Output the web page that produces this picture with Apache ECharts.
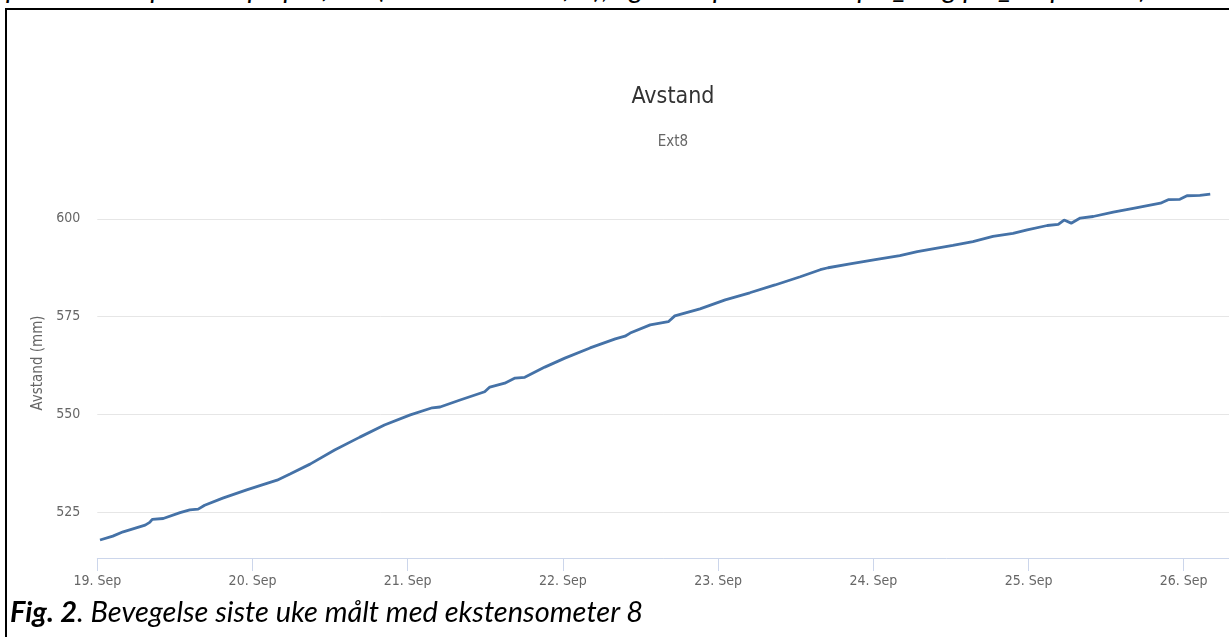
<!DOCTYPE html>
<html>
<head>
<meta charset="utf-8">
<script src="https://cdn.jsdelivr.net/npm/echarts@6/dist/echarts.min.js"></script>
<style>
html,body{margin:0;padding:0;background:#fff;width:1229px;height:637px;overflow:hidden;}
#top{position:absolute;left:6px;top:-30px;font-family:Lato,"Open Sans",sans-serif;font-style:italic;font-size:28px;color:#000;white-space:nowrap;}
#frameTop{position:absolute;left:5px;top:8px;width:1224px;height:2px;background:#000;}
#frameLeft{position:absolute;left:5px;top:8px;width:2px;height:629px;background:#000;}
#caption{position:absolute;left:10px;top:593px;font-family:Lato,"Open Sans",sans-serif;font-style:italic;font-size:29px;color:#000;white-space:nowrap;}
#chart{position:absolute;left:0;top:0;width:1229px;height:637px;}
</style>
</head>
<body>
<div id="top">punktene er plassert på profilen (se kartet nedenfor), og disse punktene er pts_0 og pts_30 punkter)</div>
<div id="frameTop"></div>
<div id="frameLeft"></div>
<div id="chart"></div>
<div id="caption"><b>Fig. 2</b>. Bevegelse siste uke målt med ekstensometer 8</div>
<script>
const times = [
  '2019-09-19T00:25','2019-09-19T02:24','2019-09-19T04:00','2019-09-19T07:24','2019-09-19T08:06',
  '2019-09-19T08:30','2019-09-19T10:12','2019-09-19T12:48','2019-09-19T14:18','2019-09-19T15:36',
  '2019-09-19T16:36','2019-09-19T19:24','2019-09-19T23:06','2019-09-20T01:30','2019-09-20T03:48',
  '2019-09-20T05:48','2019-09-20T08:54','2019-09-20T12:42','2019-09-20T16:36','2019-09-20T20:24',
  '2019-09-21T00:24','2019-09-21T03:48','2019-09-21T05:00','2019-09-21T08:06','2019-09-21T11:54',
  '2019-09-21T12:42','2019-09-21T15:00','2019-09-21T16:36','2019-09-21T18:06','2019-09-21T21:12',
  '2019-09-22T00:18','2019-09-22T04:12','2019-09-22T08:06','2019-09-22T09:36','2019-09-22T10:24',
  '2019-09-22T13:30','2019-09-22T16:18','2019-09-22T17:18','2019-09-22T21:12','2019-09-23T01:06',
  '2019-09-23T04:54','2019-09-23T08:48','2019-09-23T12:42','2019-09-23T15:48','2019-09-23T17:00',
  '2019-09-23T20:24','2019-09-24T00:18','2019-09-24T04:06','2019-09-24T06:48','2019-09-24T09:12',
  '2019-09-24T12:18','2019-09-24T15:24','2019-09-24T18:30','2019-09-24T21:36','2019-09-24T23:48',
  '2019-09-25T02:54','2019-09-25T04:36','2019-09-25T05:30','2019-09-25T06:36','2019-09-25T08:00',
  '2019-09-25T10:00','2019-09-25T13:06','2019-09-25T16:12','2019-09-25T20:24','2019-09-25T21:36',
  '2019-09-25T23:24','2019-09-26T00:30','2019-09-26T02:30','2019-09-26T04:06'
];
const values = [
  517.9,518.9,520.0,521.7,522.4,
  523.2,523.4,524.9,525.6,525.8,
  526.8,528.6,530.7,532.0,533.2,
  534.8,537.3,540.9,544.2,547.3,
  549.9,551.7,551.9,553.7,555.8,
  557.0,558.0,559.3,559.5,562.1,
  564.4,567.0,569.3,570.0,570.8,
  572.9,573.7,575.2,577.0,579.3,
  581.1,583.1,585.2,587.0,587.5,
  588.5,589.6,590.6,591.6,592.3,
  593.2,594.2,595.5,596.3,597.2,
  598.3,598.6,599.7,598.9,600.2,
  600.6,601.7,602.7,604.0,604.9,
  605.0,605.9,606.0,606.3
];
const yTicks = [525, 550, 575, 600];
const xTickDates = ['2019-09-19T00:00','2019-09-20T00:00','2019-09-21T00:00','2019-09-22T00:00',
                    '2019-09-23T00:00','2019-09-24T00:00','2019-09-25T00:00','2019-09-26T00:00'];
const xTickLabels = ['19. Sep','20. Sep','21. Sep','22. Sep','23. Sep','24. Sep','25. Sep','26. Sep'];
const titleText = 'Avstand';
const subtitleText = 'Ext8';
const yName = 'Avstand (mm)';

const ts = s => new Date(s).getTime();
const xTickTs = xTickDates.map(ts);
const labelMap = {};
xTickTs.forEach((t, i) => { labelMap[t] = xTickLabels[i]; });

const FONT = '"DejaVu Sans Condensed","DejaVu Sans",sans-serif';
const chart = echarts.init(document.getElementById('chart'), null, {renderer: 'canvas'});
chart.setOption({
  animation: false,
  backgroundColor: 'transparent',
  graphic: [
    {type: 'text', x: 673, y: 97, style: {text: titleText, fill: '#333', font: '23px ' + FONT, textAlign: 'center', textVerticalAlign: 'middle'}},
    {type: 'text', x: 673, y: 142, style: {text: subtitleText, fill: '#666', font: '15px ' + FONT, textAlign: 'center', textVerticalAlign: 'middle'}}
  ],
  grid: {left: 97.3, right: 0, top: 168, bottom: 79, containLabel: false},
  xAxis: {
    type: 'value',
    min: ts('2019-09-19T00:00'),
    max: ts('2019-09-26T07:00'),
    axisLine: {onZero: false, lineStyle: {color: '#ccd6eb', width: 1}},
    axisTick: {show: true, length: 13, customValues: xTickTs, lineStyle: {color: '#ccd6eb'}},
    axisLabel: {customValues: xTickTs, color: '#666', fontSize: 14, fontFamily: FONT, margin: 16,
      formatter: v => labelMap[v] || ''},
    splitLine: {show: false}
  },
  yAxis: {
    type: 'value',
    min: 513.3,
    max: 613,
    name: yName,
    nameLocation: 'middle',
    nameRotate: 90,
    nameGap: 52,
    nameTextStyle: {color: '#666', fontSize: 15, fontFamily: FONT},
    axisLine: {show: false},
    axisTick: {show: false, customValues: yTicks},
    axisLabel: {customValues: yTicks, color: '#666', fontSize: 14, fontFamily: FONT, margin: 17},
    splitLine: {show: true, lineStyle: {color: '#e6e6e6', width: 1}}
  },
  series: [{
    type: 'line',
    data: times.map((t, i) => [ts(t), values[i]]),
    showSymbol: false,
    lineStyle: {color: '#4572a7', width: 2.8},
    itemStyle: {color: '#4572a7'},
    clip: true
  }]
});
</script>
</body>
</html>
